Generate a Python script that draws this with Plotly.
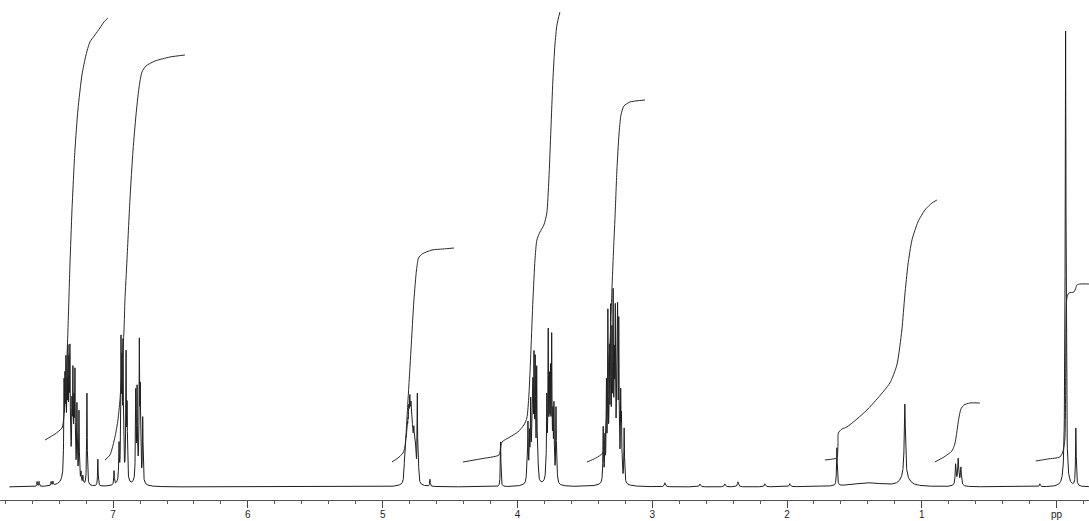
import numpy as np
import plotly.graph_objects as go

# ---------------- data (ppm, intensity) ----------------
# narrow resonance lines: position (ppm) and height
arom_a_ppm = [7.564, 7.549, 7.460, 7.446, 7.364, 7.357, 7.350, 7.342, 7.335, 7.327, 7.320,
              7.305, 7.298, 7.290, 7.283, 7.268, 7.253, 7.238, 7.224, 7.194, 7.113]
arom_a_h = [5, 5, 4, 4, 86, 80, 95, 65, 100, 85, 108, 60, 93, 62, 100, 75, 70, 10, 8, 92, 27]

arom_b_ppm = [6.993, 6.956, 6.941, 6.934, 6.926, 6.904, 6.896, 6.832, 6.822, 6.805, 6.798, 6.780]
arom_b_h = [14, 35, 128, 95, 122, 125, 70, 88, 85, 128, 80, 65]

m49_ppm = [4.842, 4.838, 4.835, 4.831, 4.827, 4.823, 4.820, 4.816, 4.812, 4.808, 4.805, 4.801,
           4.798, 4.794, 4.790, 4.786, 4.783, 4.779, 4.775, 4.771, 4.768, 4.764, 4.761, 4.757,
           4.753, 4.743, 4.734, 4.649, 4.125]
m49_h = [8, 10, 16, 20, 23, 25, 26, 29, 31, 29, 33, 31, 38, 30, 34, 27, 29, 20, 18, 22,
         25, 20, 23, 18, 21, 86, 15, 7, 45]

m39_ppm = [3.930, 3.922, 3.911, 3.902, 3.892, 3.885, 3.877, 3.868, 3.857, 3.848,
           3.789, 3.782, 3.772, 3.763, 3.755, 3.746, 3.737, 3.729, 3.714, 3.707]
m39_h = [22, 55, 40, 68, 48, 75, 107, 111, 107, 18, 10, 75, 138, 80, 90, 130, 55, 70, 72, 15]

m33_ppm = [3.364, 3.351, 3.340, 3.329, 3.318, 3.309, 3.299, 3.290, 3.281, 3.274, 3.263,
           3.257, 3.248, 3.234, 3.228, 3.208]
m33_h = [55, 40, 92, 158, 110, 150, 120, 158, 92, 145, 100, 145, 148, 78, 55, 55]

aliph_ppm = [2.906, 2.646, 2.461, 2.364, 2.164, 1.979, 1.630, 1.126, 0.749, 0.730, 0.710,
             0.124, -0.067, -0.143]
aliph_h = [4, 3, 3, 5, 3, 3, 38, 72, 20, 22, 17, 3, 415, 58]
aliph_w = [0.005, 0.005, 0.005, 0.005, 0.005, 0.005, 0.003, 0.005, 0.004, 0.004, 0.004,
           0.004, 0.0035, 0.003]

# broad underlying components
broad_ppm = [7.33, 6.93, 6.81, 4.79, 3.89, 3.76, 3.29, 1.126, 1.40, 0.73, -0.065]
broad_h = [20, 12, 10, 22, 15, 12, 15, 10, 4, 5, 45]
broad_w = [0.03, 0.02, 0.02, 0.02, 0.02, 0.02, 0.03, 0.035, 0.15, 0.015, 0.007]

NARROW_W = 0.0025

# integral curves (ppm, level)
int1_ppm = [7.505, 7.431, 7.379, 7.364, 7.350, 7.335, 7.320, 7.305, 7.283, 7.261, 7.231,
            7.201, 7.172, 7.135, 7.098, 7.068, 7.039]
int1_lv = [47, 53, 59, 72, 102, 157, 222, 277, 337, 377, 412, 432, 445, 452, 459, 465, 469]

int2_ppm = [7.060, 7.023, 6.986, 6.964, 6.949, 6.934, 6.919, 6.912, 6.897, 6.875, 6.852,
            6.830, 6.808, 6.786, 6.756, 6.689, 6.578, 6.467]
int2_lv = [27, 32, 50, 67, 87, 120, 157, 187, 227, 287, 337, 372, 399, 415, 421, 426, 430, 432]

int3_ppm = [4.931, 4.887, 4.849, 4.835, 4.812, 4.790, 4.768, 4.749, 4.734, 4.708, 4.634,
            4.553, 4.471]
int3_lv = [25, 29, 34, 40, 87, 137, 187, 217, 229, 233, 237, 238, 239]

int4_ppm = [4.404, 4.278, 4.137, 4.126, 4.115, 4.056, 3.997, 3.952, 3.930, 3.915, 3.900,
            3.885, 3.870, 3.856, 3.833, 3.804, 3.782, 3.767, 3.752, 3.737, 3.722, 3.707, 3.685]
int4_lv = [25, 28, 32, 38, 45, 50, 55, 62, 69, 92, 137, 187, 227, 247, 255, 262, 274, 307,
           357, 407, 442, 462, 475]

int5_ppm = [3.484, 3.418, 3.366, 3.351, 3.336, 3.322, 3.314, 3.299, 3.284, 3.277, 3.262,
            3.247, 3.232, 3.210, 3.166, 3.054]
int5_lv = [25, 29, 34, 47, 77, 127, 140, 197, 247, 267, 317, 352, 372, 381, 385, 387]

int6_ppm = [1.719, 1.659, 1.630, 1.622, 1.619, 1.593, 1.556, 1.481, 1.407, 1.326, 1.237,
            1.185, 1.148, 1.126, 1.103, 1.073, 1.029, 0.977, 0.925, 0.888]
int6_lv = [27, 28, 29, 42, 54, 58, 60, 68, 77, 89, 104, 122, 157, 192, 222, 247, 265, 277,
           284, 287]

int7_ppm = [0.903, 0.836, 0.777, 0.755, 0.740, 0.725, 0.710, 0.688, 0.644, 0.570]
int7_lv = [25, 30, 36, 43, 55, 69, 78, 82, 84, 84]

int8_ppm = [0.154, 0.065, -0.024, -0.046, -0.061, -0.069, -0.076, -0.091, -0.128, -0.143,
            -0.150, -0.173, -0.240]
int8_lv = [26, 28, 30, 35, 47, 157, 189, 194, 195, 199, 202, 203, 203]

tick_vals = [0, 1, 2, 3, 4, 5, 6, 7]
tick_text = ["pp", "1", "2", "3", "4", "5", "6", "7"]

# ---------------- build spectrum from the line list ----------------
narrow_ppm = arom_a_ppm + arom_b_ppm + m49_ppm + m39_ppm + m33_ppm
narrow_h = arom_a_h + arom_b_h + m49_h + m39_h + m33_h
ppm_lines = np.array(narrow_ppm + aliph_ppm + broad_ppm)
h_lines = np.array(narrow_h + aliph_h + broad_h, dtype=float)
w_lines = np.array([NARROW_W] * len(narrow_ppm) + aliph_w + broad_w)

x = np.arange(7.77, -0.24, -0.0008)
y = np.zeros_like(x)
for p, h, w in zip(ppm_lines, h_lines, w_lines):
    y += h * w * w / ((x - p) ** 2 + w * w)

fig = go.Figure()
fig.add_trace(go.Scatter(x=x, y=y, mode="lines",
                         line=dict(color="#1e1e1e", width=1), hoverinfo="skip"))

integrals = [(int1_ppm, int1_lv), (int2_ppm, int2_lv), (int3_ppm, int3_lv), (int4_ppm, int4_lv),
             (int5_ppm, int5_lv), (int6_ppm, int6_lv), (int7_ppm, int7_lv), (int8_ppm, int8_lv)]
for ip, il in integrals:
    fig.add_trace(go.Scatter(x=ip, y=il, mode="lines",
                             line=dict(color="#2a2a2a", width=1, shape="spline", smoothing=0.6),
                             hoverinfo="skip"))

fig.update_layout(
    width=1089, height=521,
    margin=dict(l=0, r=0, t=0, b=21),
    paper_bgcolor="white", plot_bgcolor="white",
    showlegend=False,
    hovermode=False,
    xaxis=dict(range=[7.839, -0.2404], showgrid=False, zeroline=False,
               showline=True, linecolor="#555", linewidth=1,
               ticks="outside", ticklen=7, tickwidth=1, tickcolor="#444",
               tickvals=tick_vals, ticktext=tick_text, ticklabelstandoff=-2,
               tickfont=dict(family="Liberation Sans, Arial, sans-serif", size=10, color="#222"),
               minor=dict(dtick=0.2, ticks="outside", ticklen=3, tickcolor="#555", showgrid=False),
               automargin=False),
    yaxis=dict(range=[-13, 487], visible=False, showgrid=False, zeroline=False),
)

fig.write_html("out.html",
               config={"displayModeBar": False, "staticPlot": True},
               post_script="document.body.style.margin='0px';"
                           "document.documentElement.style.overflow='hidden';")
